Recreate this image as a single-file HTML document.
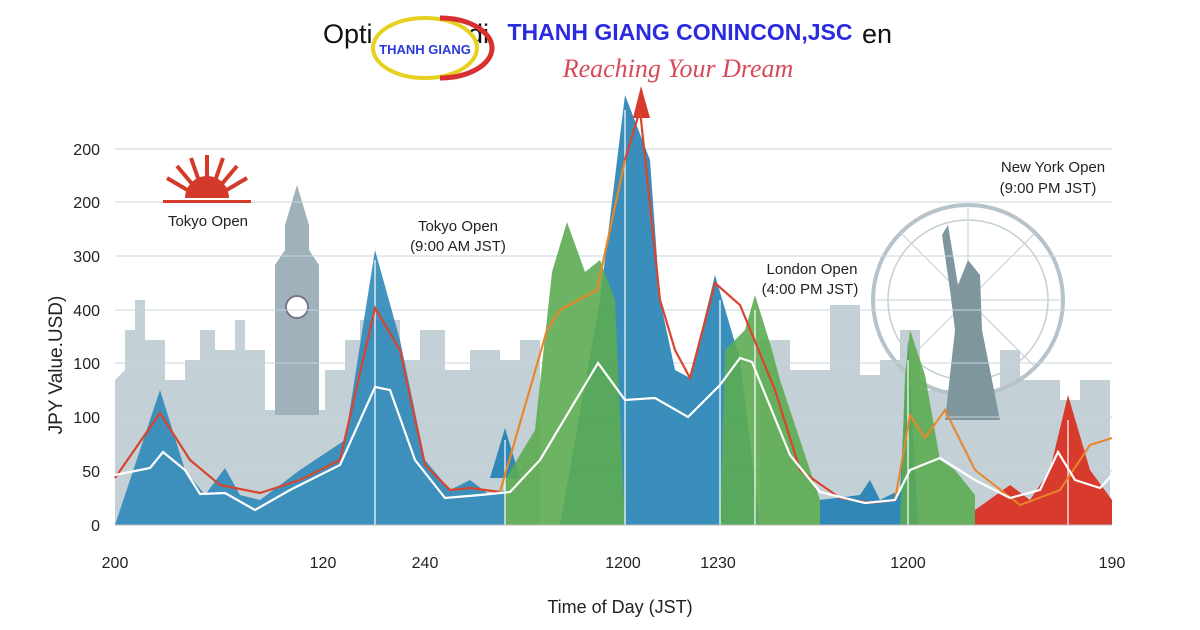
<!DOCTYPE html>
<html><head><meta charset="utf-8"><style>
body{margin:0;background:#fff;}
svg{display:block;font-family:"Liberation Sans",sans-serif;}
</style></head><body>
<svg width="1200" height="630" viewBox="0 0 1200 630">
<rect width="1200" height="630" fill="#fff"/>
<!-- skyline -->
<g fill="#b4c4cc" opacity="0.8">
<path d="M115 525 V380 L125 370 V330 L135 330 V300 L145 300 V340 L165 340 V380 L185 380 V360 L200 360 V330 L215 330 V350 L235 350 V320 L245 320 V350 L265 350 V410 L325 410 V370 L345 370 V340 L360 340 V320 L400 320 V360 L420 360 V330 L445 330 V370 L470 370 V350 L500 350 V360 L520 360 V340 L540 340 V525 Z"/>
<path d="M760 525 V340 L790 340 V370 L830 370 V305 L860 305 V375 L880 375 V360 L900 360 V330 L920 330 V390 L1000 390 V350 L1020 350 V380 L1060 380 V400 L1080 400 V380 L1110 380 V525 Z"/>
</g>
<!-- Big Ben -->
<g fill="#9fb1bb"><path d="M275 415 V265 L285 250 V225 L297 185 L309 225 V250 L319 265 V415 Z"/></g>
<circle cx="297" cy="307" r="11" fill="#fff" stroke="#778" stroke-width="2"/>
<!-- Ferris wheel -->
<circle cx="968" cy="300" r="95" fill="none" stroke="#b7c3ca" stroke-width="4"/>
<circle cx="968" cy="300" r="80" fill="none" stroke="#c5d0d6" stroke-width="1.5"/>
<g stroke="#c5d0d6" stroke-width="1">
<line x1="873" y1="300" x2="1063" y2="300"/><line x1="968" y1="205" x2="968" y2="395"/>
<line x1="901" y1="233" x2="1035" y2="367"/><line x1="1035" y1="233" x2="901" y2="367"/>
</g>
<!-- statue -->
<path d="M945 420 L955 330 L950 290 L942 235 L948 225 L958 285 L968 260 L980 275 L982 330 L1000 420 Z" fill="#7f969f"/>
<!-- grid -->
<g stroke="#c8d4dc" stroke-width="1">
<line x1="115" y1="149" x2="1112" y2="149"/><line x1="115" y1="202" x2="1112" y2="202"/>
<line x1="115" y1="256" x2="1112" y2="256"/><line x1="115" y1="310" x2="1112" y2="310"/>
<line x1="115" y1="363" x2="1112" y2="363"/><line x1="115" y1="417" x2="1112" y2="417"/>
<line x1="115" y1="471" x2="1112" y2="471"/>
</g>
<!-- blue areas -->
<g fill="#2f88b8">
<path d="M115 525 L160 390 L185 470 L205 495 L225 468 L240 495 L260 500 L300 470 L345 440 L375 250 L400 340 L425 460 L450 490 L470 480 L490 495 L505 490 L505 525 Z" opacity="0.9"/>
<path d="M490 478 L505 428 L520 478 Z"/>
<path d="M560 525 L600 300 L625 95 L650 160 L660 300 L675 370 L690 378 L715 275 L740 360 L760 525 Z" opacity="0.95"/>
<path d="M820 525 V500 L860 495 L870 480 L880 500 L900 490 L908 340 L918 525 Z"/>
</g>
<!-- green areas -->
<g fill="#5cab52" opacity="0.9">
<path d="M505 525 L505 480 L535 430 L552 272 L567 222 L585 272 L600 260 L615 300 L625 525 Z"/>
<path d="M720 525 L725 350 L745 330 L755 295 L772 350 L780 380 L810 470 L820 500 L820 525 Z"/>
<path d="M900 525 L905 375 L910 330 L925 375 L940 460 L955 470 L975 495 L975 525 Z"/>
</g>
<!-- red area -->
<path d="M975 525 L975 510 L1010 485 L1030 500 L1050 470 L1068 395 L1090 470 L1112 500 L1112 525 Z" fill="#d93a2e"/>
<path d="M633 118 L641 86 L650 118 Z" fill="#d93a2e"/>
<!-- white verticals -->
<g stroke="#fff" stroke-width="1.5" opacity="0.8">
<line x1="375" y1="260" x2="375" y2="525"/><line x1="505" y1="440" x2="505" y2="525"/>
<line x1="625" y1="110" x2="625" y2="525"/><line x1="720" y1="300" x2="720" y2="525"/>
<line x1="755" y1="310" x2="755" y2="525"/><line x1="908" y1="360" x2="908" y2="525"/>
<line x1="1068" y1="420" x2="1068" y2="525"/>
</g>
<!-- lines -->
<polyline fill="none" stroke="#d9442f" stroke-width="2.2" points="115,478 160,413 190,460 220,485 260,493 300,480 340,460 375,308 400,350 425,465 450,490 470,488 500,492"/>
<polyline fill="none" stroke="#e8862a" stroke-width="2.2" points="500,492 547,330 560,310 597,290 625,160"/>
<polyline fill="none" stroke="#d9442f" stroke-width="2.2" points="625,160 640,110 660,300 675,350 690,378 715,283 740,305 775,390 800,470 840,498 870,503 895,500"/>
<polyline fill="none" stroke="#e8862a" stroke-width="2" points="895,500 910,415 925,438 945,410 975,470 1020,505 1060,490 1090,445 1112,438"/>
<polyline fill="none" stroke="#fff" stroke-width="2.2" points="115,475 150,468 163,452 185,470 200,494 225,493 255,510 290,490 340,465 375,387 390,390 415,460 445,498 480,495 510,492 540,460 598,363 625,400 655,398 688,417 720,385 740,358 752,362 790,455 820,492 865,503 895,500 910,470 940,458 975,480 1010,498 1040,490 1058,452 1075,480 1100,488 1112,475"/>
<line x1="115" y1="525" x2="1112" y2="525" stroke="#bbb"/>
<!-- axes labels -->
<g font-size="16" fill="#222" text-anchor="end">
<text x="100" y="155">200</text><text x="100" y="208">200</text><text x="100" y="262">300</text>
<text x="100" y="316">400</text><text x="100" y="369">100</text><text x="100" y="423">100</text>
<text x="100" y="477">50</text><text x="100" y="531">0</text>
</g>
<g font-size="16" fill="#222" text-anchor="middle">
<text x="115" y="568">200</text><text x="323" y="568">120</text><text x="425" y="568">240</text>
<text x="623" y="568">1200</text><text x="718" y="568">1230</text><text x="908" y="568">1200</text>
<text x="1112" y="568">190</text>
</g>
<text x="620" y="613" font-size="18" text-anchor="middle" fill="#222">Time of Day (JST)</text>
<text transform="translate(62,365) rotate(-90)" font-size="19" text-anchor="middle" fill="#222">JPY Value.USD)</text>
<!-- annotations -->
<g font-size="15" fill="#222" text-anchor="middle">
<text x="208" y="226">Tokyo Open</text>
<text x="458" y="231">Tokyo Open</text><text x="458" y="251">(9:00 AM JST)</text>
<text x="812" y="274">London Open</text><text x="810" y="294">(4:00 PM JST)</text>
<text x="1053" y="172">New York Open</text><text x="1048" y="193">(9:00 PM JST)</text>
</g>
<!-- rising sun -->
<g fill="#d33a2a">
<path d="M185 198 A22 22 0 0 1 229 198 Z"/>
<rect x="163" y="200" width="88" height="3"/>
<g stroke="#d33a2a" stroke-width="4">
<line x1="207" y1="180" x2="207" y2="155"/><line x1="199" y1="181" x2="191" y2="158"/><line x1="215" y1="181" x2="223" y2="158"/>
<line x1="193" y1="185" x2="177" y2="166"/><line x1="221" y1="185" x2="237" y2="166"/>
<line x1="189" y1="191" x2="167" y2="178"/><line x1="225" y1="191" x2="247" y2="178"/>
</g></g>
<!-- title & logo -->
<text x="323" y="43" font-size="27" fill="#111">Opti</text>
<text x="468" y="43" font-size="27" fill="#111">di</text>
<text x="862" y="43" font-size="27" fill="#111">en</text>
<ellipse cx="425" cy="48" rx="52" ry="30" fill="#fff" stroke="#e8d020" stroke-width="4"/>
<path d="M440 18 A52 30 0 0 1 440 78" fill="none" stroke="#d83030" stroke-width="5"/>
<text x="425" y="54" font-size="13" font-weight="bold" fill="#2a3ad8" text-anchor="middle">THANH GIANG</text>
<text x="680" y="40" font-size="23" font-weight="bold" fill="#2a2ae0" text-anchor="middle">THANH GIANG CONINCON,JSC</text>
<text x="678" y="77" font-size="26" font-style="italic" fill="#d84a5a" text-anchor="middle" font-family="Liberation Serif,serif">Reaching Your Dream</text>
</svg>
</body></html>
